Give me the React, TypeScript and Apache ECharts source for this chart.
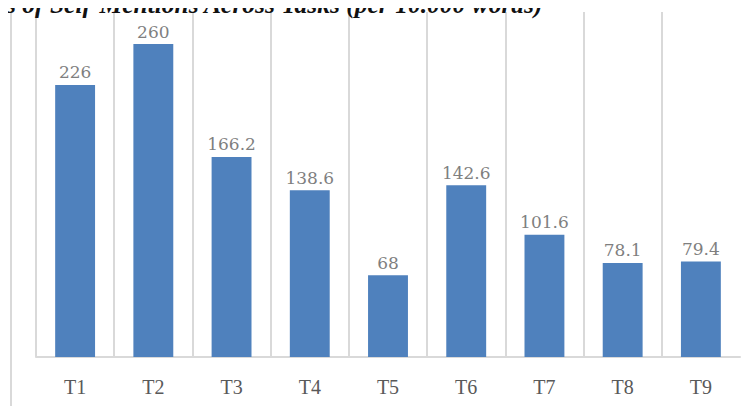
import React, { useEffect, useRef } from "react";
import * as echarts from "echarts";

const categories = ["T1", "T2", "T3", "T4", "T5", "T6", "T7", "T8", "T9"];
const values = [226, 260, 166.2, 138.6, 68, 142.6, 101.6, 78.1, 79.4];
const titleText = "s of Self-Mentions Across Tasks (per 10.000 words)";

export default function App() {
  const ref = useRef<HTMLDivElement>(null);
  useEffect(() => {
    if (!ref.current) return;
    const chart = echarts.init(ref.current, null, { renderer: "svg" });
    chart.setOption({
      animation: false,
      backgroundColor: "#ffffff",
      grid: { left: 36, right: 13, top: 12, bottom: 57, containLabel: false },
      xAxis: {
        type: "category",
        data: categories,
        axisLine: { show: true, lineStyle: { color: "#d9d9d9", width: 2 } },
        axisTick: { show: false },
        axisLabel: {
          color: "#595959",
          fontFamily: "Liberation Serif",
          fontSize: 20,
          margin: 20,
        },
        splitLine: {
          show: true,
          showMinLine: true,
          showMaxLine: false,
          lineStyle: { color: "#d9d9d9", width: 2 },
        },
      },
      yAxis: {
        type: "value",
        min: 0,
        max: 286.6,
        show: false,
        splitLine: { show: false },
      },
      graphic: [
        {
          type: "line",
          shape: { x1: 11, y1: 12, x2: 11, y2: 414 },
          style: { stroke: "#d9d9d9", lineWidth: 2 },
          z: 0,
        },
        {
          type: "rect",
          shape: { x: 0, y: 0, width: 753, height: 11 },
          style: { fill: "#ffffff" },
          z: 90,
        },
        {
          type: "text",
          x: 6,
          y: 17.5,
          z: 100,
          style: {
            text: titleText,
            font: "italic bold 25.5px 'Liberation Serif'",
            fill: "#111111",
            textVerticalAlign: "bottom",
          },
        },
      ],
      series: [
        {
          type: "bar",
          data: values,
          barWidth: "51%",
          itemStyle: { color: "#4f81bd" },
          label: {
            show: true,
            position: "top",
            distance: 4,
            color: "#7f7f7f",
            fontFamily: "DejaVu Serif",
            fontSize: 17,
          },
        },
      ],
    });
    return () => chart.dispose();
  }, []);
  return <div ref={ref} style={{ width: 753, height: 414, margin: -8 }} />;
}
